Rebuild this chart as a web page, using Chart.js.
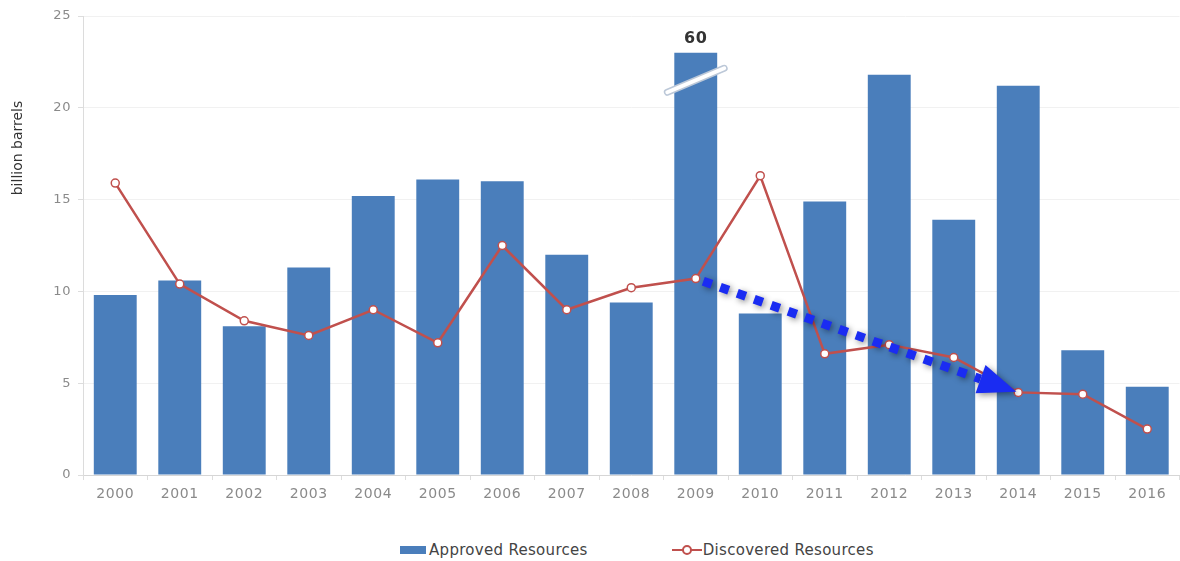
<!DOCTYPE html>
<html>
<head>
<meta charset="utf-8">
<title>Approved vs Discovered Resources</title>
<script src="https://cdn.jsdelivr.net/npm/chart.js@4/dist/chart.umd.min.js"></script>
<style>
  body { margin: 0; background: #fff; }
  .wrap { position: relative; width: 1180px; height: 561px; overflow: hidden; }
  .plot { position: absolute; left: 0; top: 0; width: 1185px; height: 512px; }
  .legend {
    position: absolute; left: 400px; top: 541px;
    display: flex; gap: 84px; align-items: center;
    font: 15px "DejaVu Sans", sans-serif; letter-spacing: 0.3px; color: #444;
  }
  .legend span { display: flex; align-items: center; height: 18px; }
  .legend .box { width: 26px; height: 8px; background: #4a7ebb; margin-right: 3px; }
  .legend .mark { position: relative; width: 30px; height: 2px; background: #c0504d; margin-right: 1px; }
  .legend .mark b {
    position: absolute; left: 10px; top: -4px; width: 6px; height: 6px;
    border: 2px solid #c0504d; border-radius: 50%; background: #fff;
  }
</style>
</head>
<body>
<div class="wrap">
  <div class="plot"><canvas id="chart"></canvas></div>
  <div class="legend">
    <span><i class="box"></i>Approved Resources</span>
    <span><i class="mark"><b></b></i>Discovered Resources</span>
  </div>
</div>
<script>
const years = ['2000', '2001', '2002', '2003', '2004', '2005', '2006', '2007', '2008',
  '2009', '2010', '2011', '2012', '2013', '2014', '2015', '2016'];
const approved = [9.8, 10.6, 8.1, 11.3, 15.2, 16.1, 16.0, 12.0, 9.4,
  60, 8.8, 14.9, 21.8, 13.9, 21.2, 6.8, 4.8];
const discovered = [15.9, 10.4, 8.4, 7.6, 9.0, 7.2, 12.5, 9.0, 10.2,
  10.7, 16.3, 6.6, 7.1, 6.4, 4.5, 4.4, 2.5];
const yTicks = [0, 5, 10, 15, 20, 25];
const yTitle = 'billion barrels';

// bars taller than the axis are cut short and marked with a break
const yMax = yTicks[yTicks.length - 1];
const brokenHeight = 23;
const approvedShown = approved.map(v => (v > yMax ? brokenHeight : v));

// dotted trend arrow between two points of the discovered line
const trendFrom = years.indexOf('2009');
const trendTo = years.indexOf('2014');

const FONT = '"DejaVu Sans", sans-serif';

const extras = {
  id: 'extras',
  beforeDraw(chart) {
    chart.ctx.letterSpacing = '0.6px';
  },
  afterDatasetsDraw(chart) {
    const ctx = chart.ctx;
    const y = chart.scales.y;
    const bars = chart.getDatasetMeta(1).data;
    const pts = chart.getDatasetMeta(0).data;

    // break slash and real value on oversized bars
    approved.forEach((v, i) => {
      if (v <= yMax) return;
      const bar = bars[i];
      const cy = y.getPixelForValue(21.5);
      const half = bar.width / 2 + 7;
      ctx.save();
      ctx.lineCap = 'round';
      const slash = () => {
        ctx.beginPath();
        ctx.moveTo(bar.x - half, cy + 12);
        ctx.lineTo(bar.x + half, cy - 12);
        ctx.stroke();
      };
      ctx.strokeStyle = '#bcc8d8';
      ctx.lineWidth = 7;
      slash();
      ctx.strokeStyle = '#ffffff';
      ctx.lineWidth = 4;
      slash();
      ctx.fillStyle = '#333';
      ctx.font = 'bold 16px ' + FONT;
      ctx.textAlign = 'center';
      ctx.textBaseline = 'middle';
      ctx.fillText(String(v), bar.x, bar.y - 14);
      ctx.restore();
    });

    // trend arrow
    const a = pts[trendFrom], b = pts[trendTo];
    const dx = b.x - a.x, dy = b.y - a.y;
    const len = Math.hypot(dx, dy);
    const ux = dx / len, uy = dy / len;
    const head = 38, hw = 15;
    const tipX = b.x - ux * 2, tipY = b.y - uy * 2;
    ctx.save();
    ctx.shadowColor = 'rgba(0,0,0,0.45)';
    ctx.shadowBlur = 6;
    ctx.shadowOffsetX = 2;
    ctx.shadowOffsetY = 2;
    ctx.strokeStyle = '#1a2cf2';
    ctx.fillStyle = '#1a2cf2';
    ctx.lineWidth = 9;
    ctx.setLineDash([9, 9]);
    ctx.beginPath();
    ctx.moveTo(a.x + ux * 8, a.y + uy * 8);
    ctx.lineTo(tipX - ux * head, tipY - uy * head);
    ctx.stroke();
    ctx.setLineDash([]);
    const bx = tipX - ux * head, by = tipY - uy * head;
    ctx.beginPath();
    ctx.moveTo(tipX, tipY);
    ctx.lineTo(bx - uy * hw, by + ux * hw);
    ctx.lineTo(bx + uy * hw, by - ux * hw);
    ctx.closePath();
    ctx.fill();
    ctx.restore();

    // y axis title
    ctx.save();
    ctx.letterSpacing = '0px';
    ctx.translate(18, 148);
    ctx.rotate(-Math.PI / 2);
    ctx.fillStyle = '#333';
    ctx.font = '14px ' + FONT;
    ctx.textAlign = 'center';
    ctx.textBaseline = 'middle';
    ctx.fillText(yTitle, 0, 0);
    ctx.restore();
  }
};

new Chart(document.getElementById('chart'), {
  data: {
    labels: years,
    datasets: [
      {
        type: 'line',
        label: 'Discovered Resources',
        data: discovered,
        borderColor: '#c0504d',
        borderWidth: 2.5,
        pointRadius: 4,
        pointBorderWidth: 1.5,
        pointBackgroundColor: '#ffffff',
        pointBorderColor: '#c0504d',
        tension: 0,
        order: 1,
      },
      {
        type: 'bar',
        label: 'Approved Resources',
        data: approvedShown,
        backgroundColor: '#4a7ebb',
        categoryPercentage: 1,
        barPercentage: 0.665,
        order: 2,
      },
    ],
  },
  options: {
    responsive: true,
    maintainAspectRatio: false,
    animation: false,
    layout: { padding: { top: 16, left: 0, right: 0, bottom: 0 } },
    plugins: {
      legend: { display: false },
      tooltip: { enabled: false },
    },
    scales: {
      x: {
        afterFit: (scale) => { scale.height = 37; },
        grid: { drawOnChartArea: false, offset: true, tickLength: 5, color: '#dddddd' },
        border: { color: '#d6d6d6' },
        ticks: { color: '#8a8a8a', padding: 6, maxRotation: 0, font: { family: FONT, size: 14 } },
      },
      y: {
        min: yTicks[0],
        max: yMax,
        afterFit: (scale) => { scale.width = 83; },
        afterBuildTicks: (scale) => { scale.ticks = yTicks.map(v => ({ value: v })); },
        grid: { color: '#f1f1f1', tickLength: 5, tickColor: '#dddddd' },
        border: { color: '#dcdcdc' },
        ticks: { color: '#8a8a8a', padding: 7, font: { family: FONT, size: 13 } },
      },
    },
  },
  plugins: [extras],
});
</script>
</body>
</html>
